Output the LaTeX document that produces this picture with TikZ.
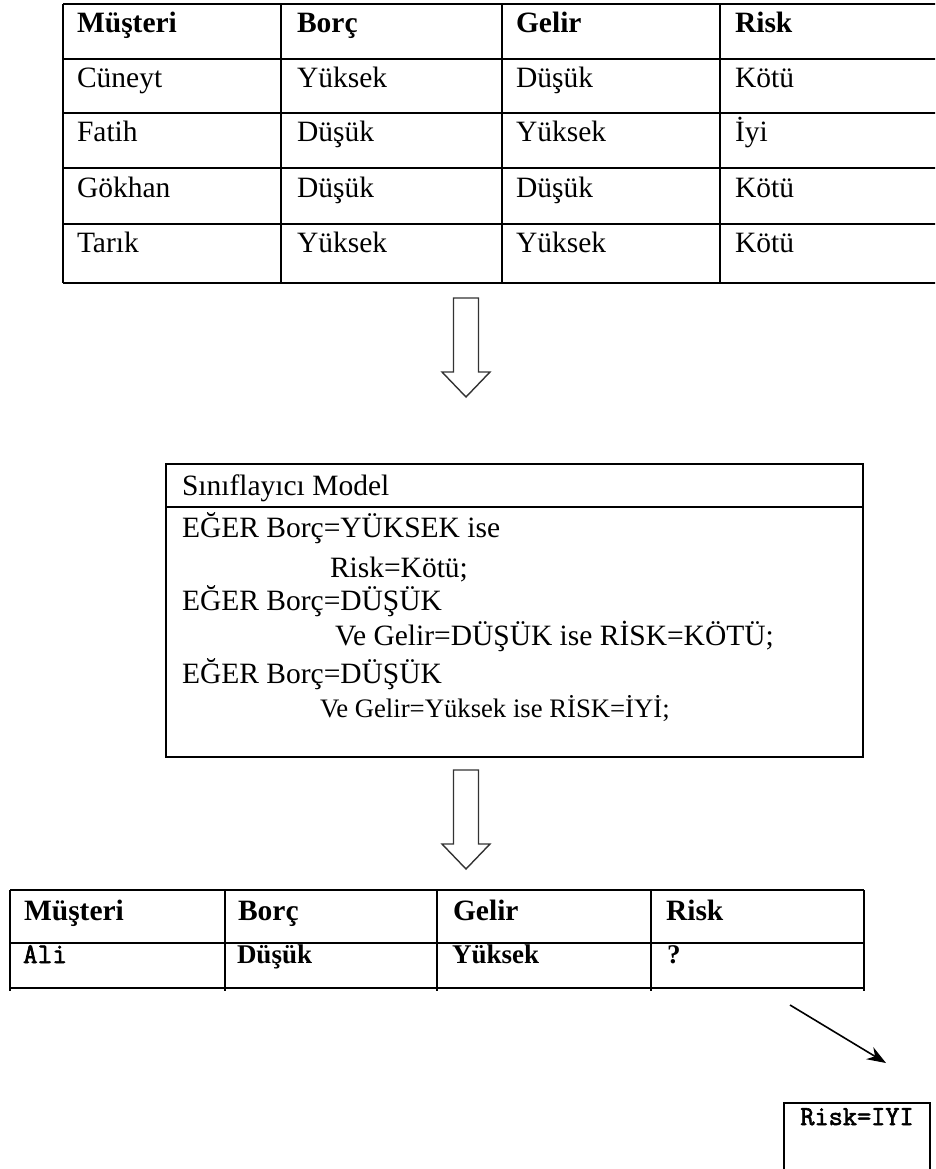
\documentclass[tikz,border=0pt]{standalone}
\usepackage{fontspec}
\setmainfont{Liberation Serif}
\newfontfamily\slabmono{Latin Modern Mono}[FakeBold=2.2]
\usetikzlibrary{arrows.meta}

\tikzset{
  rule/.style={line width=1.8pt, black},
  cell/.style={anchor=base west, inner sep=0pt, outer sep=0pt,
               font=\fontsize{29.5}{35}\selectfont},
  headcell/.style={cell, font=\fontsize{29.5}{35}\selectfont\bfseries},
  smallcell/.style={cell, font=\fontsize{26.7}{32}\selectfont},
  newcell/.style={cell, font=\fontsize{27}{32}\selectfont\bfseries},
  codecell/.style={cell, font=\fontsize{28.5}{32}\slabmono\bfseries},
  frame/.style={draw, line width=1.8pt, outer sep=0pt, inner sep=0pt,
                anchor=north west},
  hollow/.style={line width=1.4pt, draw=black!80, fill=white, line join=miter},
  hollowarrow/.pic={
    \draw[hollow] (-12.5,0) -- (12.5,0) -- (12.5,74) -- (24,74) -- (0,99)
      -- (-24,74) -- (-12.5,74) -- cycle;
  }
}

\begin{document}
\begin{tikzpicture}[x=1pt, y=-1pt]
\useasboundingbox (0,0) rectangle (935,1169);
\clip (0,0) rectangle (935,1169);

% training data table
\foreach \y in {4,59,113,168,224,283}
  \draw[rule] (63,\y) -- (950,\y);
\foreach \x in {63,281,502,720}
  \draw[rule] (\x,4) -- (\x,283);

\node[headcell] (h1) at (77,33)  {Müşteri};
\node[headcell] (h2) at (297,33) {Borç};
\node[headcell] (h3) at (516,33) {Gelir};
\node[headcell] (h4) at (735,33) {Risk};

\node[cell] (r11) at (77,88)  {Cüneyt};
\node[cell] (r12) at (297,88) {Yüksek};
\node[cell] (r13) at (516,88) {Düşük};
\node[cell] (r14) at (735,88) {Kötü};

\node[cell] (r21) at (77,142)  {Fatih};
\node[cell] (r22) at (297,142) {Düşük};
\node[cell] (r23) at (516,142) {Yüksek};
\node[cell] (r24) at (735,142) {İyi};

\node[cell] (r31) at (77,197)  {Gökhan};
\node[cell] (r32) at (297,197) {Düşük};
\node[cell] (r33) at (516,197) {Düşük};
\node[cell] (r34) at (735,197) {Kötü};

\node[cell] (r41) at (77,252)  {Tarık};
\node[cell] (r42) at (297,252) {Yüksek};
\node[cell] (r43) at (516,252) {Yüksek};
\node[cell] (r44) at (735,252) {Kötü};

% data -> model
\coordinate (a1) at (466,298);
\pic at (a1) {hollowarrow};

% classifier model box
\node[frame, minimum width=697pt, minimum height=293pt] (model) at (166,464) {};
\draw[rule] (166,507) -- (863,507);

\node[cell] (mt) at (182,495) {Sınıflayıcı Model};
\node[cell] (m1) at (182,537) {EĞER Borç=YÜKSEK ise};
\node[cell] (m2) at (330,577) {Risk=Kötü;};
\node[cell] (m3) at (182,610) {EĞER Borç=DÜŞÜK};
\node[cell] (m4) at (335,645) {Ve Gelir=DÜŞÜK ise RİSK=KÖTÜ;};
\node[cell] (m5) at (182,683) {EĞER Borç=DÜŞÜK};
\node[smallcell] (m6) at (320,717) {Ve Gelir=Yüksek ise RİSK=İYİ;};

% model -> new record
\coordinate (a2) at (466,770);
\pic at (a2) {hollowarrow};

% new record table
\foreach \y in {890,943,988}
  \draw[rule] (10,\y) -- (864,\y);
\foreach \x in {10,225,437,651,864}
  \draw[rule] (\x,890) -- (\x,991);

\node[headcell] (n1) at (24,920)  {Müşteri};
\node[headcell] (n2) at (238,920) {Borç};
\node[headcell] (n3) at (453,920) {Gelir};
\node[headcell] (n4) at (666,920) {Risk};

\node[codecell] (v1) at (23,963)  {Ali};
\node[newcell]  (v2) at (237,963) {Düşük};
\node[newcell]  (v3) at (452,963) {Yüksek};
\node[newcell]  (v4) at (667,963) {?};

% prediction
\node[frame, minimum width=146pt, minimum height=110pt] (res) at (784,1103) {};
\node[anchor=base, inner sep=0pt, font=\fontsize{27.5}{31}\slabmono]
  (restext) at (857,1125) {Risk=IYI};

\coordinate (p0) at (790,1005);
\coordinate (p1) at (886,1063);
\draw[line width=1.6pt, -{Stealth[length=19pt, width=14pt]}] (p0) -- (p1);
\end{tikzpicture}
\end{document}
